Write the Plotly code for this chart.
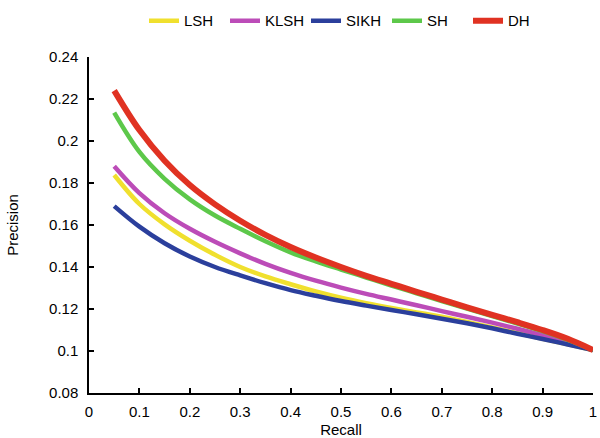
import plotly.graph_objects as go

recall = [0.05, 0.1, 0.15, 0.2, 0.25, 0.3, 0.35, 0.4, 0.45, 0.5,
          0.55, 0.6, 0.65, 0.7, 0.75, 0.8, 0.85, 0.9, 0.95, 1.0]
lsh  = [0.1838, 0.1700, 0.1603, 0.1525, 0.1458, 0.1400, 0.1355, 0.1318, 0.1284, 0.1254,
        0.1228, 0.1205, 0.1184, 0.1163, 0.1138, 0.1112, 0.1085, 0.1058, 0.1032, 0.1005]
klsh = [0.1880, 0.1752, 0.1656, 0.1582, 0.1520, 0.1465, 0.1415, 0.1372, 0.1335, 0.1302,
        0.1272, 0.1245, 0.1218, 0.1190, 0.1163, 0.1135, 0.1106, 0.1075, 0.1042, 0.1005]
sikh = [0.1690, 0.1592, 0.1513, 0.1450, 0.1400, 0.1360, 0.1323, 0.1290, 0.1263, 0.1238,
        0.1216, 0.1195, 0.1175, 0.1154, 0.1132, 0.1108, 0.1082, 0.1057, 0.1031, 0.1005]
sh   = [0.2135, 0.1948, 0.1820, 0.1722, 0.1645, 0.1582, 0.1523, 0.1470, 0.1427, 0.1388,
        0.1350, 0.1312, 0.1275, 0.1238, 0.1202, 0.1166, 0.1131, 0.1095, 0.1053, 0.1005]
dh   = [0.2240, 0.2052, 0.1906, 0.1790, 0.1698, 0.1620, 0.1553, 0.1495, 0.1445, 0.1400,
        0.1358, 0.1320, 0.1282, 0.1245, 0.1208, 0.1172, 0.1137, 0.1100, 0.1058, 0.1005]

names = ["LSH", "KLSH", "SIKH", "SH", "DH"]
series = [lsh, klsh, sikh, sh, dh]
colors = ["#F0E02E", "#BC4CB8", "#2B3F9C", "#5DC84A", "#E03222"]
widths = [4.5, 4.5, 4.5, 4.5, 6]

x_ticks = [0, 0.1, 0.2, 0.3, 0.4, 0.5, 0.6, 0.7, 0.8, 0.9, 1]
x_labels = ["0", "0.1", "0.2", "0.3", "0.4", "0.5", "0.6", "0.7", "0.8", "0.9", "1"]
y_ticks = [0.08, 0.1, 0.12, 0.14, 0.16, 0.18, 0.2, 0.22, 0.24]
y_labels = ["0.08", "0.1", "0.12", "0.14", "0.16", "0.18", "0.2", "0.22", "0.24"]

fig = go.Figure()
for n, s, c, w in zip(names, series, colors, widths):
    fig.add_trace(go.Scatter(x=recall, y=s, name=n, mode="lines",
                             line=dict(color=c, width=w, shape="spline", smoothing=1)))

font = "Liberation Sans, Arial, Helvetica, sans-serif"
fig.update_layout(
    width=600, height=438,
    margin=dict(l=89, r=7, t=57, b=45),
    plot_bgcolor="white", paper_bgcolor="white",
    font=dict(family=font, size=15, color="black"),
    showlegend=True,
    legend=dict(orientation="h", x=144 / 600, xref="container", xanchor="left",
                y=0.99, yanchor="top", yref="container",
                entrywidth=36, entrywidthmode="pixels",
                font=dict(size=15), itemwidth=30, bgcolor="rgba(0,0,0,0)"),
    xaxis=dict(range=[0, 1], tickvals=x_ticks, ticktext=x_labels, showgrid=False,
               zeroline=False, showline=True, linecolor="black", linewidth=1.5,
               ticks="inside", ticklen=5, tickcolor="black", tickwidth=1.5,
               automargin=False, ticklabelstandoff=4,
               title=dict(text="Recall", font=dict(size=15), standoff=14)),
    yaxis=dict(range=[0.08, 0.24], tickvals=y_ticks, ticktext=y_labels, showgrid=False,
               zeroline=False, showline=True, linecolor="black", linewidth=1.5,
               ticks="inside", ticklen=5, tickcolor="black", tickwidth=1.5,
               automargin=False, ticklabelstandoff=6,
               title=dict(text="Precision", font=dict(size=15), standoff=27)),
)
fig.write_html("out.html")
